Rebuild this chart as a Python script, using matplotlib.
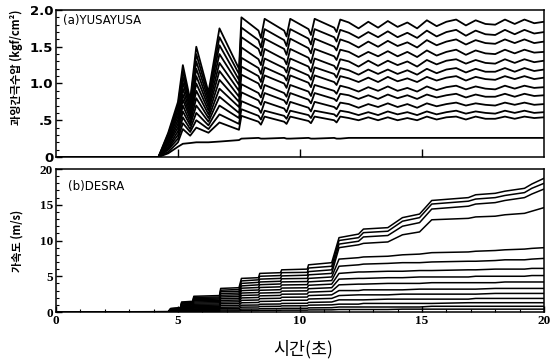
import matplotlib
matplotlib.use("Agg")
import matplotlib.pyplot as plt
from matplotlib.ticker import MultipleLocator, FixedLocator

plt.rcParams['font.family'] = ['DejaVu Sans', 'Noto Sans CJK KR']

# (a) YUSAYUSA - excess pore pressure, time grid and one row per depth
time_a = [0, 4.2, 4.6, 5.0, 5.2, 5.5, 5.75, 6.25, 6.7, 7.5, 7.6, 8.3, 8.4, 8.55, 9.35, 9.45, 9.6,
          10.35, 10.45, 10.6, 11.4, 11.5, 11.65,
          12.0, 12.4, 12.8, 13.2, 13.6, 14.0, 14.4, 14.8, 15.2, 15.6, 16.0, 16.4, 16.8, 17.2,
          17.6, 18.0, 18.4, 18.8, 19.2, 19.6, 20.0]
pwp_a = [
    [0, 0, 0.05, 0.14, 0.18, 0.19, 0.20, 0.20, 0.21, 0.23, 0.25, 0.26, 0.25, 0.25, 0.26, 0.25, 0.25,
     0.26, 0.25, 0.25, 0.26, 0.25, 0.25,
     0.26, 0.26, 0.26, 0.26, 0.26, 0.26, 0.26, 0.26, 0.26, 0.26, 0.26, 0.26, 0.26, 0.26,
     0.26, 0.26, 0.26, 0.26, 0.26, 0.26, 0.26],
    [0, 0, 0.07, 0.20, 0.38, 0.29, 0.40, 0.33, 0.47, 0.37, 0.56, 0.48, 0.44, 0.55, 0.48, 0.45, 0.55,
     0.49, 0.46, 0.55, 0.50, 0.47, 0.55,
     0.53, 0.50, 0.54, 0.50, 0.54, 0.50, 0.53, 0.50, 0.55, 0.51, 0.54, 0.55, 0.51, 0.55,
     0.52, 0.52, 0.55, 0.52, 0.55, 0.53, 0.54],
    [0, 0, 0.10, 0.25, 0.46, 0.34, 0.50, 0.38, 0.58, 0.45, 0.65, 0.56, 0.51, 0.63, 0.56, 0.52, 0.63,
     0.57, 0.53, 0.63, 0.58, 0.55, 0.63,
     0.61, 0.57, 0.61, 0.57, 0.62, 0.58, 0.61, 0.57, 0.62, 0.58, 0.61, 0.63, 0.59, 0.62,
     0.60, 0.59, 0.63, 0.60, 0.63, 0.60, 0.61],
    [0, 0, 0.12, 0.30, 0.54, 0.38, 0.60, 0.43, 0.70, 0.53, 0.76, 0.66, 0.60, 0.75, 0.66, 0.61, 0.75,
     0.67, 0.62, 0.75, 0.68, 0.65, 0.74,
     0.72, 0.67, 0.72, 0.68, 0.73, 0.68, 0.72, 0.67, 0.73, 0.69, 0.72, 0.74, 0.70, 0.73,
     0.71, 0.70, 0.74, 0.71, 0.74, 0.71, 0.72],
    [0, 0, 0.14, 0.35, 0.62, 0.43, 0.70, 0.48, 0.82, 0.60, 0.88, 0.77, 0.71, 0.87, 0.77, 0.72, 0.87,
     0.78, 0.73, 0.87, 0.79, 0.76, 0.86,
     0.84, 0.79, 0.84, 0.79, 0.85, 0.80, 0.84, 0.79, 0.85, 0.81, 0.84, 0.86, 0.81, 0.85,
     0.82, 0.82, 0.86, 0.82, 0.86, 0.83, 0.84],
    [0, 0, 0.17, 0.40, 0.70, 0.47, 0.80, 0.53, 0.93, 0.68, 0.99, 0.87, 0.81, 0.98, 0.87, 0.82, 0.98,
     0.89, 0.83, 0.98, 0.90, 0.86, 0.97,
     0.94, 0.89, 0.95, 0.90, 0.96, 0.90, 0.94, 0.89, 0.96, 0.91, 0.95, 0.97, 0.92, 0.96,
     0.93, 0.92, 0.97, 0.93, 0.97, 0.94, 0.95],
    [0, 0, 0.19, 0.45, 0.78, 0.52, 0.90, 0.58, 1.05, 0.75, 1.12, 1.00, 0.93, 1.11, 1.00, 0.94, 1.11,
     1.01, 0.95, 1.11, 1.02, 0.98, 1.10,
     1.07, 1.02, 1.08, 1.02, 1.09, 1.03, 1.07, 1.02, 1.09, 1.04, 1.08, 1.10, 1.04, 1.09,
     1.06, 1.05, 1.10, 1.06, 1.10, 1.06, 1.08],
    [0, 0, 0.21, 0.50, 0.85, 0.56, 1.00, 0.63, 1.17, 0.82, 1.23, 1.10, 1.02, 1.22, 1.10, 1.04, 1.22,
     1.11, 1.05, 1.22, 1.13, 1.08, 1.21,
     1.18, 1.12, 1.19, 1.13, 1.19, 1.13, 1.18, 1.12, 1.20, 1.14, 1.19, 1.21, 1.15, 1.20,
     1.16, 1.16, 1.21, 1.16, 1.21, 1.17, 1.19],
    [0, 0, 0.24, 0.55, 0.93, 0.60, 1.10, 0.68, 1.28, 0.90, 1.35, 1.21, 1.13, 1.34, 1.21, 1.15, 1.34,
     1.23, 1.16, 1.34, 1.24, 1.19, 1.33,
     1.30, 1.23, 1.31, 1.24, 1.31, 1.25, 1.30, 1.23, 1.32, 1.26, 1.31, 1.33, 1.27, 1.32,
     1.28, 1.27, 1.33, 1.28, 1.33, 1.29, 1.31],
    [0, 0, 0.26, 0.60, 1.01, 0.65, 1.20, 0.73, 1.40, 0.98, 1.49, 1.33, 1.25, 1.47, 1.33, 1.26, 1.47,
     1.35, 1.28, 1.47, 1.37, 1.32, 1.46,
     1.43, 1.36, 1.43, 1.37, 1.44, 1.37, 1.43, 1.36, 1.45, 1.38, 1.43, 1.46, 1.39, 1.45,
     1.41, 1.40, 1.46, 1.41, 1.46, 1.42, 1.43],
    [0, 0, 0.28, 0.65, 1.09, 0.69, 1.30, 0.78, 1.52, 1.05, 1.63, 1.47, 1.38, 1.61, 1.47, 1.39, 1.61,
     1.48, 1.41, 1.61, 1.50, 1.45, 1.60,
     1.56, 1.49, 1.57, 1.50, 1.58, 1.51, 1.56, 1.49, 1.59, 1.52, 1.57, 1.60, 1.53, 1.59,
     1.55, 1.54, 1.60, 1.55, 1.60, 1.55, 1.57],
    [0, 0, 0.31, 0.70, 1.17, 0.74, 1.40, 0.83, 1.63, 1.13, 1.76, 1.59, 1.49, 1.74, 1.59, 1.51, 1.74,
     1.61, 1.53, 1.74, 1.63, 1.57, 1.73,
     1.69, 1.62, 1.70, 1.63, 1.71, 1.63, 1.69, 1.62, 1.72, 1.64, 1.70, 1.73, 1.65, 1.72,
     1.67, 1.66, 1.73, 1.67, 1.73, 1.68, 1.70],
    [0, 0, 0.33, 0.75, 1.25, 0.78, 1.50, 0.88, 1.75, 1.20, 1.90, 1.72, 1.62, 1.88, 1.72, 1.64, 1.88,
     1.74, 1.66, 1.88, 1.76, 1.70, 1.87,
     1.83, 1.75, 1.84, 1.76, 1.85, 1.77, 1.83, 1.75, 1.86, 1.78, 1.84, 1.87, 1.79, 1.86,
     1.81, 1.80, 1.87, 1.81, 1.87, 1.82, 1.84],
]

# (b) DESRA
time_b = [0, 4.6, 4.7, 5.1, 5.15, 5.6, 5.65, 6.7, 6.75, 7.5, 7.6, 8.3, 8.35, 9.2, 9.25, 10.3, 10.35,
          11.3, 11.6, 12.4, 12.6, 13.6, 14.2, 14.9, 15.4, 16.9, 17.2, 18.0, 18.4, 19.2, 19.5, 20.0]
vals_b = [
    [0, 0.05, 0.5, 0.6, 1.4, 1.5, 2.2, 2.3, 3.3, 3.4, 4.7, 4.8, 5.4, 5.5, 5.9, 6.0, 6.6, 6.9,
     10.4, 10.9, 11.6, 11.8, 13.2, 13.7, 15.6, 16.0, 16.4, 16.6, 16.9, 17.3, 17.9, 18.7],
    [0, 0.04, 0.45, 0.6, 1.3, 1.4, 2.05, 2.1, 3.05, 3.15, 4.35, 4.5, 5.0, 5.1, 5.5, 5.55, 6.15, 6.4,
     10.0, 10.4, 11.1, 11.3, 12.7, 13.2, 15.1, 15.5, 15.8, 16.0, 16.3, 16.7, 17.3, 18.0],
    [0, 0.04, 0.4, 0.55, 1.2, 1.3, 1.9, 1.95, 2.85, 2.9, 4.0, 4.15, 4.6, 4.7, 5.05, 5.15, 5.65, 5.9,
     9.5, 9.9, 10.5, 10.7, 12.0, 12.5, 14.4, 14.8, 15.1, 15.3, 15.6, 16.0, 16.5, 17.2],
    [0, 0.04, 0.4, 0.5, 1.1, 1.2, 1.75, 1.8, 2.6, 2.65, 3.65, 3.8, 4.2, 4.3, 4.65, 4.7, 5.2, 5.4,
     9.0, 9.4, 9.6, 9.8, 10.8, 11.2, 12.9, 13.1, 13.3, 13.4, 13.6, 13.8, 14.1, 14.6],
    [0, 0.03, 0.34, 0.44, 0.98, 1.08, 1.57, 1.62, 2.35, 2.4, 3.33, 3.43, 3.82, 3.92, 4.21, 4.26, 4.7, 4.9,
     7.4, 7.6, 7.7, 7.8, 8.0, 8.1, 8.3, 8.4, 8.5, 8.6, 8.7, 8.8, 8.9, 9.0],
    [0, 0.03, 0.31, 0.4, 0.88, 0.97, 1.41, 1.45, 2.11, 2.16, 2.99, 3.08, 3.43, 3.52, 3.78, 3.83, 4.22, 4.4,
     6.4, 6.6, 6.7, 6.8, 6.9, 6.9, 7.0, 7.1, 7.1, 7.2, 7.3, 7.3, 7.4, 7.5],
    [0, 0.03, 0.27, 0.35, 0.78, 0.86, 1.25, 1.29, 1.87, 1.91, 2.65, 2.73, 3.04, 3.12, 3.35, 3.39, 3.74, 3.9,
     5.4, 5.6, 5.6, 5.7, 5.7, 5.8, 5.8, 5.9, 5.9, 6.0, 6.0, 6.0, 6.1, 6.1],
    [0, 0.02, 0.24, 0.31, 0.68, 0.75, 1.09, 1.12, 1.63, 1.67, 2.31, 2.38, 2.65, 2.72, 2.92, 2.96, 3.26, 3.4,
     4.6, 4.7, 4.7, 4.8, 4.8, 4.9, 4.9, 4.9, 5.0, 5.0, 5.0, 5.0, 5.1, 5.1],
    [0, 0.02, 0.2, 0.26, 0.58, 0.64, 0.93, 0.96, 1.39, 1.42, 1.97, 2.03, 2.26, 2.32, 2.49, 2.52, 2.78, 2.9,
     3.8, 3.9, 3.9, 4.0, 4.0, 4.0, 4.1, 4.1, 4.1, 4.1, 4.2, 4.2, 4.2, 4.2],
    [0, 0.02, 0.17, 0.22, 0.48, 0.53, 0.77, 0.79, 1.15, 1.18, 1.63, 1.68, 1.87, 1.92, 2.06, 2.09, 2.3, 2.4,
     3.0, 3.0, 3.1, 3.1, 3.1, 3.2, 3.2, 3.2, 3.2, 3.3, 3.3, 3.3, 3.3, 3.3],
    [0, 0.01, 0.13, 0.17, 0.38, 0.42, 0.61, 0.63, 0.91, 0.93, 1.29, 1.33, 1.48, 1.52, 1.63, 1.65, 1.82, 1.9,
     2.3, 2.4, 2.4, 2.4, 2.5, 2.5, 2.5, 2.5, 2.5, 2.6, 2.6, 2.6, 2.6, 2.6],
    [0, 0.01, 0.1, 0.13, 0.28, 0.31, 0.45, 0.46, 0.67, 0.69, 0.95, 0.98, 1.09, 1.12, 1.2, 1.22, 1.34, 1.4,
     1.7, 1.7, 1.7, 1.8, 1.8, 1.8, 1.8, 1.8, 1.9, 1.9, 1.9, 1.9, 1.9, 1.9],
    [0, 0.01, 0.07, 0.09, 0.2, 0.22, 0.32, 0.33, 0.48, 0.49, 0.68, 0.7, 0.78, 0.8, 0.86, 0.87, 0.96, 1.0,
     1.1, 1.1, 1.2, 1.2, 1.2, 1.2, 1.2, 1.3, 1.3, 1.3, 1.3, 1.3, 1.3, 1.3],
    [0, 0, 0.04, 0.05, 0.12, 0.13, 0.19, 0.2, 0.29, 0.29, 0.41, 0.42, 0.47, 0.48, 0.52, 0.52, 0.58, 0.6,
     0.7, 0.7, 0.7, 0.7, 0.7, 0.7, 0.8, 0.8, 0.8, 0.8, 0.8, 0.8, 0.8, 0.8],
    [0, 0, 0.02, 0.03, 0.06, 0.07, 0.1, 0.1, 0.14, 0.15, 0.2, 0.21, 0.23, 0.24, 0.26, 0.26, 0.29, 0.3,
     0.35, 0.35, 0.35, 0.35, 0.4, 0.4, 0.4, 0.4, 0.4, 0.4, 0.4, 0.4, 0.4, 0.4],
]

ticks_a = [0, 0.5, 1.0, 1.5, 2.0]
ticklabels_a = ["0", ".5", "1.0", "1.5", "2.0"]
ticks_b = [0, 5, 10, 15, 20]

fig = plt.figure(figsize=(5.52, 3.62), dpi=100)
axA = fig.add_axes([0.1014, 0.5663, 0.8841, 0.4061])
axB = fig.add_axes([0.1014, 0.1381, 0.8841, 0.3950])

for row in pwp_a:
    axA.plot(time_a, row, color="black", lw=1.3)
for row in vals_b:
    axB.plot(time_b, row, color="black", lw=1.1)

for ax in (axA, axB):
    ax.set_xlim(0, 20)
    for s in ax.spines.values():
        s.set_linewidth(1.1)
    ax.tick_params(direction="in", which="major", length=4, width=1, pad=2)
    ax.tick_params(direction="in", which="minor", length=2, width=0.8)

axA.set_ylim(0, 2.0)
axA.yaxis.set_major_locator(FixedLocator(ticks_a))
axA.set_yticklabels(ticklabels_a, fontsize=9.5, fontweight="bold")
axA.yaxis.set_minor_locator(MultipleLocator(0.1))
axA.xaxis.set_major_locator(FixedLocator([5, 10, 15]))
axA.tick_params(axis="x", which="major", length=6, labelbottom=False)

axB.set_ylim(0, 20)
axB.yaxis.set_major_locator(FixedLocator(ticks_b))
axB.yaxis.set_minor_locator(MultipleLocator(1))
axB.xaxis.set_major_locator(FixedLocator(ticks_b))
axB.xaxis.set_minor_locator(MultipleLocator(1))
axB.set_yticklabels([str(t) for t in ticks_b], fontsize=9.5, fontweight="bold",
                    family=["Liberation Serif"])
axB.set_xticklabels([str(t) for t in ticks_b], fontsize=9.5, fontweight="bold",
                    family=["Liberation Serif"])

axA.text(0.015, 0.93, "(a)YUSAYUSA", transform=axA.transAxes, fontsize=8.5, va="center")
axB.text(0.025, 0.88, "(b)DESRA", transform=axB.transAxes, fontsize=8.5, va="center")

fig.text(0.030, 0.815, "과잉간극수압 (kgf/cm²)", rotation=90, ha="center", va="center",
         fontsize=8, fontweight="bold", family=["Noto Sans CJK KR", "DejaVu Sans"])
fig.text(0.030, 0.335, "가속도 (m/s)", rotation=90, ha="center", va="center",
         fontsize=8, fontweight="bold", family=["Noto Sans CJK KR", "DejaVu Sans"])
fig.text(0.549, 0.035, "시간(초)", ha="center", va="center", fontsize=12.5,
         family=["Noto Sans CJK KR", "DejaVu Sans"])

fig.savefig("out.png", dpi=100)
